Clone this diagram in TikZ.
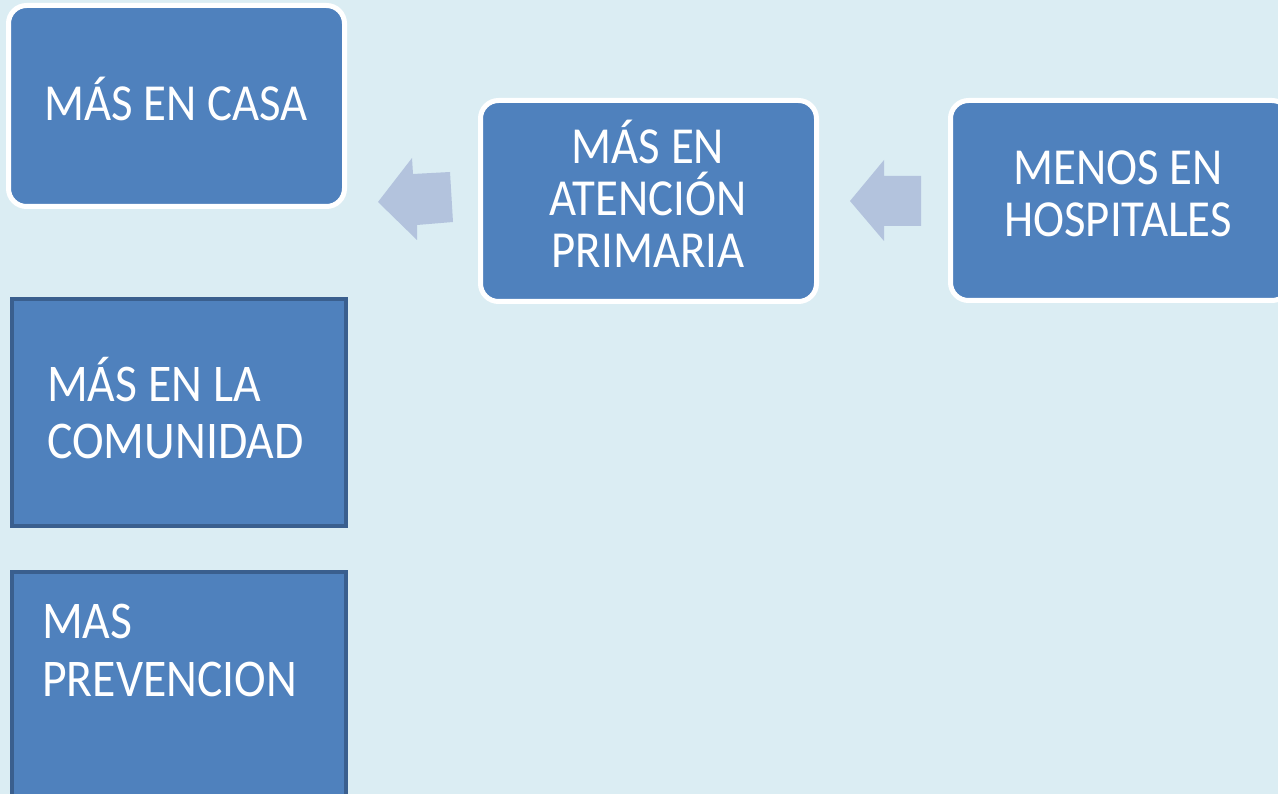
\documentclass[tikz,border=0pt]{standalone}
\usepackage{fontspec}
\setmainfont[FakeStretch=0.9]{Carlito}
\definecolor{bg}{HTML}{DBEDF3}
\definecolor{boxblue}{HTML}{4F81BD}
\definecolor{boxdark}{HTML}{3A5F8E}
\definecolor{arrowc}{HTML}{B3C3DD}
\tikzset{
  roundbox/.style={draw=white, line width=5pt, fill=boxblue, rounded corners=18pt},
  sharpbox/.style={draw=boxdark, line width=4pt, fill=boxblue},
  lbl/.style={text=white, font=\fontsize{52}{52}\selectfont, inner sep=0pt},
  arrowshape/.style={fill=arrowc, draw=none}
}
\begin{document}
\begin{tikzpicture}[x=1pt,y=-1pt]
\fill[bg] (0,0) rectangle (1278,794);
\useasboundingbox (0,0) rectangle (1278,794);
% boxes
\draw[roundbox] (8.5,5.5) rectangle (344.5,206.5);
\node[lbl] (casa) at (176,99) {MÁS EN CASA};
\draw[roundbox] (480.5,100.5) rectangle (816.5,301.5);
\node[lbl, align=center] (atencion) at (648,194) {MÁS EN\\ATENCIÓN\\PRIMARIA};
\draw[roundbox] (950.5,100.5) rectangle (1290,300.5);
\node[lbl, align=center] (hosp) at (1118,194) {MENOS EN\\HOSPITALES};
\draw[sharpbox] (12,299) rectangle (346,526);
\node[lbl, align=left, anchor=west, font=\fontsize{53}{57}\selectfont] (comunidad) at (47,408) {MÁS EN LA\\COMUNIDAD};
\draw[sharpbox] (12,572) rectangle (346,800);
\node[lbl, align=left, anchor=west, font=\fontsize{53}{58}\selectfont] (prev) at (42,650) {MAS\\PREVENCION};
% arrows
\fill[arrowshape] (378,202) -- (412,158) -- (413,174) -- (450,172) -- (453,222) -- (417,225) -- (417,240) -- cycle;
\fill[arrowshape] (850,201) -- (884,160) -- (884,176) -- (921,176) -- (921,226) -- (884,226) -- (884,241) -- cycle;
\end{tikzpicture}
\end{document}
